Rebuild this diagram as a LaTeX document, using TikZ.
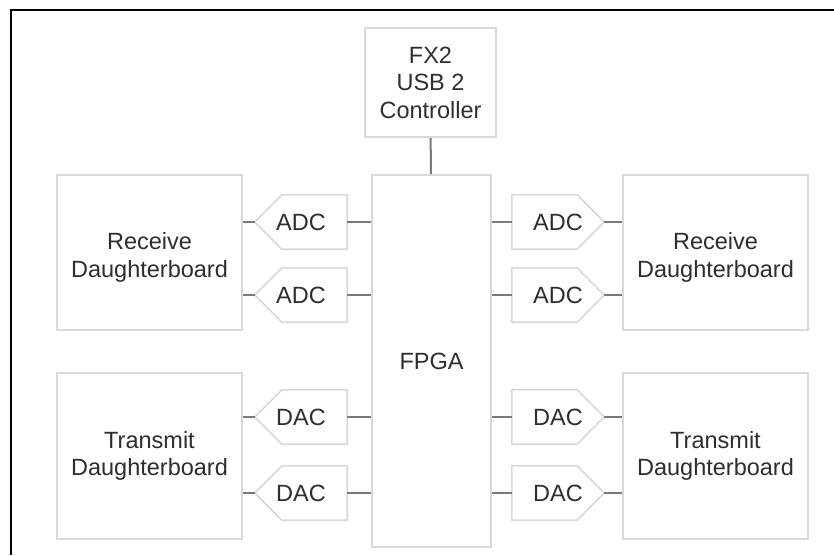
\documentclass[tikz,border=0pt]{standalone}
\usepackage{fontspec}
\setmainfont{Liberation Sans}
\definecolor{boxline}{HTML}{D9D9D9}
\definecolor{wirecol}{HTML}{7A7A7A}
\definecolor{txt}{HTML}{2E2E2E}
\begin{document}
\begin{tikzpicture}[x=1pt,y=-1pt,
  every node/.style={font=\fontsize{23.5}{27.5}\selectfont, text=txt},
  board/.style={draw=boxline, line width=1.6pt, align=center, inner sep=0pt},
  lowtext/.style={label={[align=center, yshift=-5pt]center:#1}},
  conv/.style={minimum width=92pt, minimum height=54pt, inner sep=0pt},
  convline/.style={draw=boxline, line width=1.6pt, line join=miter},
  wire/.style={draw=wirecol, line width=2pt}]
\useasboundingbox (0,0) rectangle (834,555);
\fill[white] (0,0) rectangle (834,555);
\draw[line width=2.5pt] (11,555) -- (11,10) -- (834,10);

\node[board, minimum width=131pt, minimum height=109pt] (fx2) at (430.5,82.5) {FX2\\USB 2\\Controller};
\node[board, minimum width=119pt, minimum height=372pt] (fpga) at (431.5,361) {FPGA};

\node[board, minimum width=185pt, minimum height=155pt, lowtext={Receive\\Daughterboard}] (recvL) at (149.5,252.5) {};
\node[board, minimum width=185pt, minimum height=166pt] (tranL) at (149.5,456) {Transmit\\Daughterboard};
\node[board, minimum width=185pt, minimum height=155pt, lowtext={Receive\\Daughterboard}] (recvR) at (715.5,252.5) {};
\node[board, minimum width=185pt, minimum height=166pt] (tranR) at (715.5,456) {Transmit\\Daughterboard};

\node[conv] (adcL1) at (301,222) {ADC};
\node[conv] (adcL2) at (301,295) {ADC};
\node[conv] (dacL1) at (301,417) {DAC};
\node[conv] (dacL2) at (301,493) {DAC};
\node[conv] (adcR1) at (558,222) {ADC};
\node[conv] (adcR2) at (558,295) {ADC};
\node[conv] (dacR1) at (558,417) {DAC};
\node[conv] (dacR2) at (558,493) {DAC};

\foreach \c in {adcL1,adcL2,dacL1,dacL2}{
  \draw[convline] (\c.west) -- ([xshift=27pt]\c.north west) -- (\c.north east)
    -- (\c.south east) -- ([xshift=27pt]\c.south west) -- cycle;
}
\foreach \c in {adcR1,adcR2,dacR1,dacR2}{
  \draw[convline] (\c.east) -- ([xshift=-27pt]\c.north east) -- (\c.north west)
    -- (\c.south west) -- ([xshift=-27pt]\c.south east) -- cycle;
}

\draw[wire] (fx2) -- (fpga);
\foreach \c/\b in {adcL1/recvL, adcL2/recvL, dacL1/tranL, dacL2/tranL}{
  \draw[wire] (\c.west) -- (\c.west -| \b.east);
  \draw[wire] (\c.east) -- (\c.east -| fpga.west);
}
\foreach \c/\b in {adcR1/recvR, adcR2/recvR, dacR1/tranR, dacR2/tranR}{
  \draw[wire] (\c.west) -- (\c.west -| fpga.east);
  \draw[wire] (\c.east) -- (\c.east -| \b.west);
}
\end{tikzpicture}
\end{document}
